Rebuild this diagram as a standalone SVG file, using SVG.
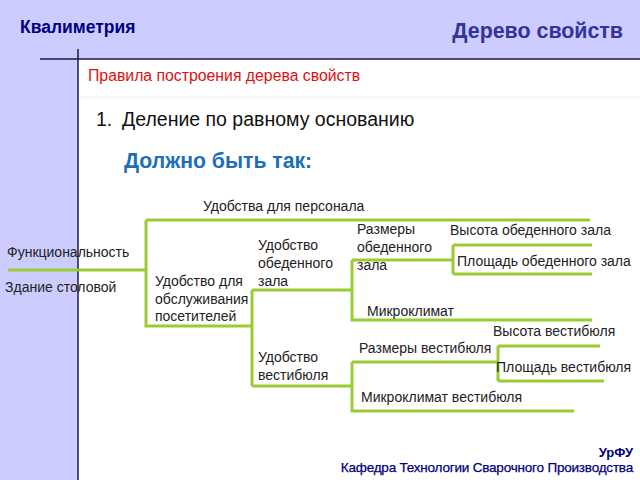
<svg xmlns="http://www.w3.org/2000/svg" width="640" height="480" viewBox="0 0 640 480">
<style>
.lbl{font-family:"Liberation Sans",Arial,sans-serif;font-size:14px;fill:#222}
.g{stroke:#99CC33;stroke-width:3;fill:none;stroke-linejoin:miter}
</style>
<rect x="0" y="0" width="640" height="480" fill="#CCCCFF"/>
<rect x="78" y="59" width="562" height="421" fill="#FFFFFF"/>
<line x1="78" y1="97" x2="640" y2="97" stroke="#EEEEF4" stroke-width="1"/>
<line x1="40" y1="59" x2="640" y2="59" stroke="#1A1A4A" stroke-width="1.5"/>
<line x1="78" y1="49" x2="78" y2="480" stroke="#1A1A4A" stroke-width="1.5"/>
<text x="20" y="33" font-family="Liberation Sans,Arial,sans-serif" font-size="17.5" font-weight="bold" fill="#000080">Квалиметрия</text>
<text x="623" y="38" text-anchor="end" font-family="Liberation Sans,Arial,sans-serif" font-size="21.4" font-weight="bold" fill="#333399">Дерево свойств</text>
<text x="88" y="81" font-family="Liberation Sans,Arial,sans-serif" font-size="15.8" fill="#DD1111">Правила построения дерева свойств</text>
<text x="96" y="126" font-family="Liberation Sans,Arial,sans-serif" font-size="19.5" fill="#111">1.</text>
<text x="122" y="126" font-family="Liberation Sans,Arial,sans-serif" font-size="19.5" fill="#111">Деление по равному основанию</text>
<text x="124" y="168" font-family="Liberation Sans,Arial,sans-serif" font-size="21.2" font-weight="bold" fill="#1F6FB5">Должно быть так:</text>
<g id="connectors">
<path class="g" d="M8 270H146M146 220V326H252M146 220H590"/>
<path class="g" d="M252 290V386M252 290H352M352 260V320H592M352 260H453M453 245V274M453 245H592M453 274H592"/>
<path class="g" d="M252 386H352M352 362V411H574M352 362H498M498 346V381M498 346H600M498 381H604"/>
</g>
<g id="root"><text class="lbl" x="7" y="257">Функциональность</text><text class="lbl" x="5" y="292">Здание столовой</text></g>
<g id="n-personal"><text class="lbl" x="203" y="211">Удобства для персонала</text></g>
<g id="n-visitors"><text class="lbl" x="155" y="286">Удобство для</text><text class="lbl" x="155" y="304">обслуживания</text><text class="lbl" x="155" y="321">посетителей</text></g>
<g id="n-hall"><text class="lbl" x="258" y="250">Удобство</text><text class="lbl" x="258" y="268">обеденного</text><text class="lbl" x="258" y="286">зала</text></g>
<g id="n-hallsize"><text class="lbl" x="357" y="234">Размеры</text><text class="lbl" x="357" y="252">обеденного</text><text class="lbl" x="357" y="270">зала</text></g>
<g id="n-hallheight"><text class="lbl" x="450" y="235">Высота обеденного зала</text></g>
<g id="n-hallarea"><text class="lbl" x="457" y="266">Площадь обеденного зала</text></g>
<g id="n-micro"><text class="lbl" x="367" y="316">Микроклимат</text></g>
<g id="n-lobby"><text class="lbl" x="258" y="362">Удобство</text><text class="lbl" x="258" y="380">вестибюля</text></g>
<g id="n-lobbysize"><text class="lbl" x="359" y="353">Размеры вестибюля</text></g>
<g id="n-lobbyheight"><text class="lbl" x="493" y="336">Высота вестибюля</text></g>
<g id="n-lobbyarea"><text class="lbl" x="496" y="372">Площадь вестибюля</text></g>
<g id="n-lobbymicro"><text class="lbl" x="361" y="402">Микроклимат вестибюля</text></g>
<text x="633" y="457" text-anchor="end" font-family="Liberation Sans,Arial,sans-serif" font-size="13" font-weight="bold" fill="#000080">УрФУ</text>
<text x="633" y="472" text-anchor="end" font-family="Liberation Sans,Arial,sans-serif" font-size="13.5" fill="#000080" letter-spacing="-0.2" stroke="#000080" stroke-width="0.25">Кафедра Технологии Сварочного Производства</text>
</svg>
